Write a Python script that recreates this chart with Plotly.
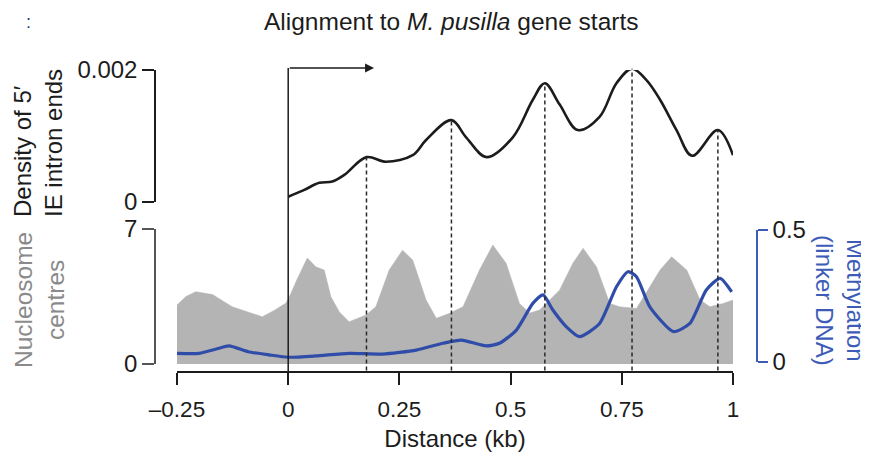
import plotly.graph_objects as go

# ---------------- data ----------------
density_x = [0.0, 0.035, 0.07, 0.099, 0.126, 0.176, 0.22, 0.28, 0.31, 0.367, 0.40, 0.446,
             0.505, 0.55, 0.577, 0.61, 0.651, 0.70, 0.738, 0.773, 0.805, 0.836, 0.873,
             0.908, 0.966, 1.0]
density_y = [0.00008, 0.00018, 0.00029, 0.00031, 0.00041, 0.00068, 0.00061, 0.00071, 0.00094,
             0.00124, 0.00098, 0.00068, 0.00098, 0.00155, 0.0018, 0.00148, 0.00109, 0.00129,
             0.0018, 0.00202, 0.00185, 0.00155, 0.00109, 0.0007, 0.00109, 0.00071]

nuc_x = [-0.25, -0.23, -0.208, -0.17, -0.126, -0.088, -0.058, -0.03, -0.005, 0.005, 0.02,
         0.043, 0.062, 0.081, 0.096, 0.115, 0.137, 0.175, 0.197, 0.227, 0.257, 0.28, 0.31,
         0.333, 0.363, 0.393, 0.43, 0.46, 0.49, 0.52, 0.543, 0.565, 0.61, 0.64, 0.663, 0.693,
         0.723, 0.745, 0.783, 0.813, 0.836, 0.862, 0.896, 0.926, 0.948, 0.978, 1.0]
nuc_y = [3.06, 3.5, 3.75, 3.6, 2.97, 2.66, 2.45, 2.8, 3.16, 3.6, 4.4,
         5.5, 5.04, 4.87, 3.49, 2.7, 2.19, 2.54, 2.97, 4.87, 5.9, 5.39, 3.32,
         2.37, 2.63, 2.97, 4.87, 6.17, 5.22, 3.14, 2.64, 2.8, 3.83, 5.23, 6.0, 5.04,
         3.14, 2.97, 2.88, 4.0, 4.87, 5.56, 4.87, 3.32, 2.97, 3.14, 3.32]

meth_x = [-0.25, -0.2, -0.16, -0.133, -0.09, -0.043, 0.0, 0.062, 0.137, 0.212, 0.288, 0.348,
          0.389, 0.445, 0.475, 0.513, 0.55, 0.573, 0.595, 0.625, 0.655, 0.7, 0.738, 0.764,
          0.783, 0.813, 0.866, 0.903, 0.94, 0.971, 0.997]
meth_y = [0.033, 0.033, 0.05, 0.061, 0.039, 0.027, 0.018, 0.023, 0.033, 0.03, 0.045, 0.071,
          0.083, 0.061, 0.071, 0.121, 0.222, 0.254, 0.197, 0.134, 0.096, 0.146, 0.285, 0.342,
          0.323, 0.209, 0.115, 0.146, 0.273, 0.317, 0.266]

peak_kb = [0.176, 0.367, 0.577, 0.773, 0.966]

x_ticks = [-0.25, 0, 0.25, 0.5, 0.75, 1]
x_ticktext = ["\u20130.25", "0", "0.25", "0.5", "0.75", "1"]
dens_ticks = [0, 0.002]
dens_ticktext = ["0", "0.002"]
nuc_ticks = [0, 7]
meth_ticks = [0, 0.5]
meth_ticktext = ["0", "0.5"]

# ---------------- styling ----------------
# the page body has an 8 px margin, so the figure is 8 px smaller than the window
W, H = 861, 444
ML, MR, MT, MB = 147, 112, 47, 80
PW, PH = W - ML - MR, H - MT - MB
OFF = 8
FONT = "Liberation Sans, Arial, Helvetica, sans-serif"
BLACK = "#1c1c1c"
GREY_FILL = "#b4b4b4"
BLUE = "#2f4ca8"
BLUE_AX = "#3d5cb8"
GREY_TXT = "#8a8a8a"


def px_x(p):
    """screen pixel -> paper x"""
    return (p - OFF - ML) / PW


def px_y(p):
    """screen pixel -> paper y"""
    return (H - MB - (p - OFF)) / PH


x_dom = [px_x(177), px_x(733)]
y1_dom = [px_y(202), px_y(70)]
y2_dom = [px_y(364), px_y(229)]
y3_dom = [px_y(362), px_y(230)]

fig = go.Figure()

fig.add_trace(go.Scatter(x=nuc_x, y=nuc_y, xaxis="x", yaxis="y2", mode="lines",
                         line=dict(color=GREY_FILL, width=0.5), fill="tozeroy",
                         fillcolor=GREY_FILL, hoverinfo="skip"))
fig.add_trace(go.Scatter(x=meth_x, y=meth_y, xaxis="x", yaxis="y3", mode="lines",
                         line=dict(color=BLUE, width=3.2, shape="spline", smoothing=0.6),
                         hoverinfo="skip"))
fig.add_trace(go.Scatter(x=density_x, y=density_y, xaxis="x", yaxis="y", mode="lines",
                         line=dict(color=BLACK, width=2.6, shape="spline", smoothing=1.0),
                         hoverinfo="skip", cliponaxis=False))

ytickfont = dict(family=FONT, size=24, color=BLACK)
xtickfont = dict(family=FONT, size=22.5, color=BLACK)

fig.update_layout(
    width=W, height=H,
    margin=dict(l=ML, r=MR, t=MT, b=MB, autoexpand=False),
    paper_bgcolor="white", plot_bgcolor="rgba(0,0,0,0)",
    showlegend=False,
    font=dict(family=FONT, color=BLACK),
    xaxis=dict(domain=x_dom, range=[-0.25, 1], anchor="free", position=0,
               automargin=False,
               showline=True, linecolor=BLACK, linewidth=1.5,
               ticks="outside", ticklen=12, tickwidth=1.5, tickcolor=BLACK,
               tickvals=x_ticks, ticktext=x_ticktext, tickfont=xtickfont,
               ticklabelstandoff=5,
               showgrid=False, zeroline=False,
               title=dict(text="Distance (kb)", font=dict(family=FONT, size=24, color=BLACK),
                          standoff=10)),
    yaxis=dict(domain=y1_dom, range=[0, 0.002], anchor="free", position=0,
               automargin=False,
               showline=True, linecolor=BLACK, linewidth=1.5,
               ticks="outside", ticklen=12, tickwidth=1.5, tickcolor=BLACK,
               tickvals=dens_ticks, ticktext=dens_ticktext, tickfont=ytickfont,
               showgrid=False, zeroline=False),
    yaxis2=dict(domain=y2_dom, range=[0, 7], anchor="free", position=0,
                automargin=False,
                showline=True, linecolor="#555555", linewidth=1.5,
                ticks="outside", ticklen=12, tickwidth=1.5, tickcolor="#555555",
                tickvals=nuc_ticks, tickfont=ytickfont,
                showgrid=False, zeroline=False),
    yaxis3=dict(domain=y3_dom, range=[0, 0.5], anchor="free", position=1, side="right",
                automargin=False,
                showline=True, linecolor=BLUE_AX, linewidth=1.5,
                ticks="outside", ticklen=10, tickwidth=1.5, tickcolor=BLUE_AX,
                tickvals=meth_ticks, ticktext=meth_ticktext, tickfont=ytickfont,
                showgrid=False, zeroline=False),
)


def dens_paper(v):
    return y1_dom[0] + v / 0.002 * (y1_dom[1] - y1_dom[0])


# dashed guide lines from the density peaks down to the x axis
for pk in peak_kb:
    v = density_y[density_x.index(pk)]
    fig.add_shape(type="line", xref="x", yref="paper", x0=pk, x1=pk,
                  y0=0.005, y1=dens_paper(v),
                  line=dict(color="#2a2a2a", width=1.5, dash="4px,3px"))

# transcription start arrow at 0 kb
top = dens_paper(0.00203)
fig.add_shape(type="line", xref="x", yref="paper", x0=0, x1=0, y0=px_y(385), y1=top,
              line=dict(color=BLACK, width=1.5))
fig.add_annotation(x=0.193, y=top, xref="x", yref="paper", ax=0, ay=0, axref="x",
                   ayref="pixel", showarrow=True, arrowhead=2, arrowsize=1.2,
                   arrowwidth=1.5, arrowcolor=BLACK, text="")

# texts
fig.add_annotation(x=px_x(451), y=px_y(22), xref="paper", yref="paper", showarrow=False,
                   text="Alignment to <i>M. pusilla</i> gene starts",
                   font=dict(family=FONT, size=24.5, color=BLACK), xanchor="center",
                   yanchor="middle")
fig.add_annotation(x=px_x(28), y=px_y(22), xref="paper", yref="paper", showarrow=False,
                   text=":", font=dict(family=FONT, size=18, color="#1d3a8a"),
                   xanchor="center", yanchor="middle")
fig.add_annotation(x=px_x(38), y=px_y(143), xref="paper", yref="paper", showarrow=False,
                   text="Density of 5\u2032<br>IE intron ends", textangle=-90,
                   font=dict(family=FONT, size=24, color=BLACK), align="left",
                   xanchor="center", yanchor="middle")
fig.add_annotation(x=px_x(39), y=px_y(300), xref="paper", yref="paper", showarrow=False,
                   text="Nucleosome<br>centres", textangle=-90,
                   font=dict(family=FONT, size=24.5, color=GREY_TXT), align="center",
                   xanchor="center", yanchor="middle")
fig.add_annotation(x=px_x(840), y=px_y(300), xref="paper", yref="paper", showarrow=False,
                   text="Methylation<br>(linker DNA)", textangle=90,
                   font=dict(family=FONT, size=24, color=BLUE_AX), align="center",
                   xanchor="center", yanchor="middle")

fig.write_html("out.html")
